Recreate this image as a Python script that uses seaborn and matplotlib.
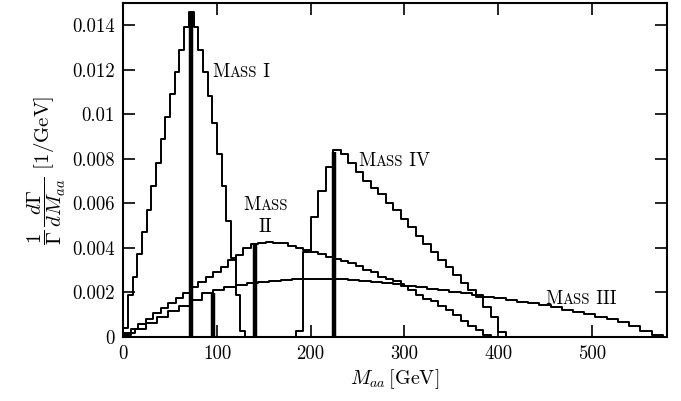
import numpy as np
import pandas as pd
import matplotlib
matplotlib.use("Agg")
import matplotlib.pyplot as plt
import seaborn as sns
from matplotlib.offsetbox import TextArea, HPacker, AnnotationBbox

# ---------------- data ----------------
# Mass I : 5 GeV bins starting at 0
mass1_start, mass1_width = 0, 5
mass1_vals = [0.0004, 0.0019, 0.0027, 0.0037, 0.0047, 0.0057, 0.0068, 0.0078,
              0.0089, 0.0099, 0.0109, 0.0119, 0.0129, 0.0139, 0.0146, 0.0139,
              0.0129, 0.0119, 0.0108, 0.0096, 0.0082, 0.0068, 0.0052, 0.00353,
              0.00188, 0.00024, 0.0]

# Mass II : 8 GeV bins starting at 0
mass2_start, mass2_width = 0, 8
mass2_vals = [0.0001, 0.00037, 0.00056, 0.00081, 0.00108, 0.00128, 0.00152, 0.00173,
              0.00199, 0.00223, 0.00248, 0.0027, 0.00293, 0.00315, 0.00345, 0.00368,
              0.00398, 0.00417, 0.00423, 0.00425, 0.0042, 0.0042, 0.0041, 0.0040,
              0.0039, 0.0038, 0.0037, 0.0036, 0.0035, 0.0034, 0.0033, 0.0032,
              0.0030, 0.0029, 0.0027, 0.0026, 0.0025, 0.0023, 0.0021, 0.0019,
              0.0017, 0.0016, 0.0014, 0.0012, 0.0010, 0.0007, 0.0005, 0.0003,
              0.0001, 0.0]

# Mass III : 12 GeV bins starting at 0
mass3_start, mass3_width = 0, 12
mass3_vals = [0.00016, 0.00037, 0.00063, 0.00089, 0.00114, 0.00139, 0.00166, 0.00196,
              0.00211, 0.00223, 0.00233, 0.00241, 0.00248, 0.0025, 0.00255, 0.0026,
              0.0026, 0.0026, 0.0026, 0.00258, 0.00255, 0.0025, 0.00247, 0.0024,
              0.00236, 0.0023, 0.00224, 0.00217, 0.0021, 0.00203, 0.00196, 0.00189,
              0.00181, 0.00174, 0.00166, 0.00158, 0.0015, 0.00141, 0.00132, 0.00122,
              0.00112, 0.00102, 0.0009, 0.00078, 0.00065, 0.0005, 0.00024, 0.0001,
              0.0]

# Mass IV : 8 GeV bins starting at 176
mass4_start, mass4_width = 176, 8
mass4_vals = [0.0, 0.00024, 0.00383, 0.00537, 0.00655, 0.00761, 0.0084, 0.0082,
              0.0078, 0.0074, 0.0070, 0.0067, 0.0064, 0.0060, 0.0057, 0.0053,
              0.00495, 0.00453, 0.00417, 0.00383, 0.00345, 0.00315, 0.00278, 0.0024,
              0.0021, 0.0018, 0.00136, 0.0009, 0.0002, 0.0]

# thick marker lines (mass value, height)
marker_x = [72, 96, 141, 225]
marker_h = [0.0146, 0.00196, 0.0042, 0.0083]

label_names = ["I", "II", "III", "IV"]

# ---------------- style ----------------
sns.set_theme(style="ticks")
plt.rcParams["font.family"] = ["cmr10", "DejaVu Serif"]
plt.rcParams["mathtext.fontset"] = "cm"
plt.rcParams["axes.unicode_minus"] = False
for k in ["text.color", "axes.labelcolor", "xtick.color", "ytick.color",
          "axes.edgecolor"]:
    plt.rcParams[k] = "black"

FS = 13.5
fig = plt.figure(figsize=(6.81, 4.01), dpi=100)
ax = fig.add_axes([0.181, 0.160, 0.798, 0.8325])


def draw_hist(start, width, vals):
    vals = [float(v) for v in vals]
    edges = [float(start + width * i) for i in range(len(vals) + 1)]
    centers = [0.5 * (edges[i] + edges[i + 1]) for i in range(len(vals))]
    df = pd.DataFrame({"m": centers, "w": vals})
    sns.histplot(data=df, x="m", weights="w", bins=edges, element="step",
                 fill=False, color="black", linewidth=1.4, ax=ax)


for s, w, v in [(mass1_start, mass1_width, mass1_vals),
                (mass2_start, mass2_width, mass2_vals),
                (mass3_start, mass3_width, mass3_vals),
                (mass4_start, mass4_width, mass4_vals)]:
    draw_hist(s, w, v)

ax.vlines(marker_x, 0, marker_h, color="black", linewidth=3.2)

ax.set_xlim(0, 580)
ax.set_ylim(0, 0.015)

xt = [0, 100, 200, 300, 400, 500]
ax.set_xticks(xt)
ax.set_xticklabels([str(t) for t in xt])
yt = [0, 0.002, 0.004, 0.006, 0.008, 0.01, 0.012, 0.014]
ax.set_yticks(yt)
ax.set_yticklabels(["0", "0.002", "0.004", "0.006", "0.008", "0.01", "0.012", "0.014"])
ax.tick_params(direction="in", length=8.5, width=1.2, top=True, right=True,
               labelsize=FS, pad=6, colors="black")
for sp in ax.spines.values():
    sp.set_visible(True)
    sp.set_linewidth(1.5)
    sp.set_color("black")

ax.set_xlabel(r"$M_{aa}\,$[GeV]", fontsize=FS + 1, labelpad=3)
ax.set_ylabel(r"$\dfrac{1}{\Gamma}\,\dfrac{d\Gamma}{dM_{aa}}$ [1/GeV]",
              fontsize=FS + 1.5, labelpad=3)


def smallcaps_label(x, y, suffix, halign=0.0):
    parts = [TextArea("M", textprops=dict(size=FS, family="cmr10", color="black")),
             TextArea("ASS", textprops=dict(size=FS * 0.78, family="cmr10", color="black"))]
    if suffix:
        parts.append(TextArea(" " + suffix,
                              textprops=dict(size=FS, family="cmr10", color="black")))
    box = HPacker(children=parts, align="baseline", pad=0, sep=0)
    ab = AnnotationBbox(box, (x, y), xycoords="data", frameon=False,
                        box_alignment=(halign, 0.5), pad=0)
    ax.add_artist(ab)


smallcaps_label(95, 0.0119, label_names[0])
smallcaps_label(152, 0.00592, "", halign=0.5)
ax.text(152, 0.00495, label_names[1], fontsize=FS, ha="center", va="center",
        color="black")
smallcaps_label(450, 0.00168, label_names[2])
smallcaps_label(251, 0.00791, label_names[3])

fig.savefig("out.png", dpi=100)
